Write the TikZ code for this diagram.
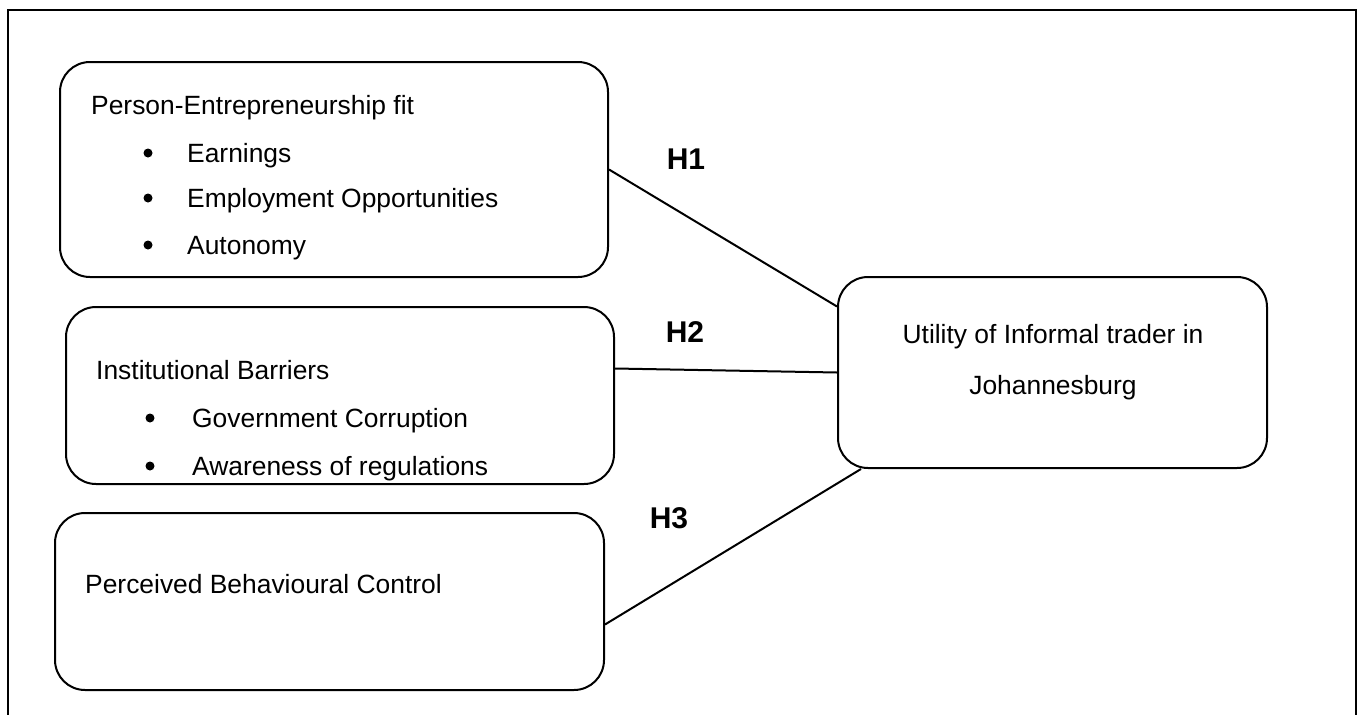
\documentclass[tikz,border=0pt]{standalone}
\usepackage{fontspec}
\setmainfont{Liberation Sans}
\usetikzlibrary{positioning}

\tikzset{
  factor/.style={draw, line width=2pt, rounded corners=30pt, inner sep=0pt},
  txt/.style={anchor=base west, inner sep=0pt, font=\fontsize{26.4}{31}\selectfont},
  dot/.style={circle, fill, inner sep=0pt, minimum size=9pt},
  hyp/.style={inner sep=0pt, font=\fontsize{30}{36}\selectfont\bfseries},
  link/.style={line width=2pt}
}

\begin{document}
\begin{tikzpicture}[x=1pt,y=-1pt]
\useasboundingbox (0,0) rectangle (1358,715);
% frame, open at the bottom
\draw[line width=2.5pt] (8,715) -- (8,10) -- (1356,10) -- (1356,715);

% boxes
\node[factor, minimum width=548pt, minimum height=215pt] (pef) at (334,169.5) {};
\node[factor, minimum width=548pt, minimum height=177pt] (inst) at (340,395.5) {};
\node[factor, minimum width=549pt, minimum height=177pt] (pbc) at (329.5,601.5) {};
\node[factor, minimum width=429pt, minimum height=191pt] (util) at (1052.5,372.5) {};

% Person-Entrepreneurship fit
\node[txt] (pef-t) at (91,114) {Person-Entrepreneurship fit};
\foreach \y/\s [count=\i] in {162/Earnings, 207/Employment Opportunities, 254/Autonomy} {
  \node[dot] (pef-b\i) at (148,\y-9) {};
  \node[txt] (pef-i\i) at (187,\y) {\s};
}

% Institutional Barriers
\node[txt] (inst-t) at (96,379) {Institutional Barriers};
\foreach \y/\s [count=\i] in {427/Government Corruption, 475/Awareness of regulations} {
  \node[dot] (inst-b\i) at (150,\y-9) {};
  \node[txt] (inst-i\i) at (192,\y) {\s};
}

% Perceived Behavioural Control
\node[txt] (pbc-t) at (85,593) {Perceived Behavioural Control};

% Utility
\node[txt, anchor=base] (util-t1) at (1053,343) {Utility of Informal trader in};
\node[txt, anchor=base] (util-t2) at (1053,394) {Johannesburg};

% hypotheses
\draw[link] (pef.east) -- ([yshift=66pt]util.west);
\draw[link] ([yshift=27pt]inst.east) -- (util.west);
\draw[link] ([yshift=-23pt]pbc.east) -- ([xshift=24pt]util.south west);
\node[hyp] (h1) at (686,159) {H1};
\node[hyp] (h2) at (685,332) {H2};
\node[hyp] (h3) at (669,518) {H3};
\end{tikzpicture}
\end{document}
